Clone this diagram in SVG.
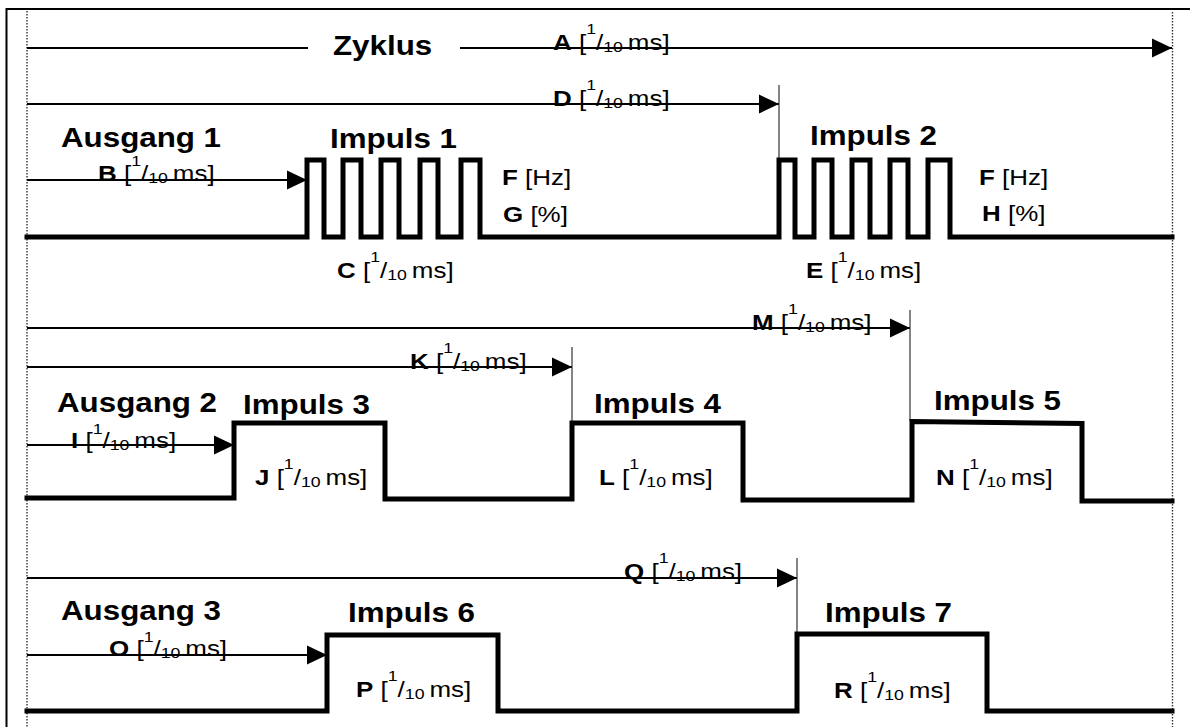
<svg xmlns="http://www.w3.org/2000/svg" width="1190" height="727" viewBox="0 0 1190 727">
<style>
.h{font-family:"Liberation Sans",Arial,sans-serif;font-weight:bold;font-size:27px;fill:#000}
.l{font-family:"Liberation Sans",Arial,sans-serif;font-size:22px;fill:#000}
.b{font-weight:bold}
.s{font-size:15px}
.sig{fill:none;stroke:#000;stroke-width:5;stroke-linejoin:miter;stroke-linecap:square}
.con{fill:none;stroke:#000;stroke-width:1.8}
.tick{fill:none;stroke:#333;stroke-width:1.2}
.dot{fill:none;stroke:#333;stroke-width:1.4;stroke-dasharray:1.5 1.5}
.frame{fill:none;stroke:#000;stroke-width:2}
</style>
<defs>
<marker id="ah" markerUnits="userSpaceOnUse" markerWidth="20" markerHeight="20" refX="20" refY="9.5" orient="auto" viewBox="0 0 20 19">
<path d="M0,0 L20,9.5 L0,19 z" fill="#000"/>
</marker>
</defs>
<rect width="1190" height="727" fill="#fff"/>
<g id="frame">
<path class="frame" d="M6.5,727 V9 H1190"/>
<path class="dot" d="M27,11 V727"/>
<path class="dot" d="M1172.5,12 V727"/>
</g>
<g id="connectors">
<path class="con" d="M27,48 H308"/>
<path class="con" d="M460,48 H1172" marker-end="url(#ah)"/>
<path class="con" d="M27,104 H779" marker-end="url(#ah)"/>
<path class="tick" d="M779,85 V160"/>
<path class="con" d="M27,180 H307" marker-end="url(#ah)"/>
<path class="con" d="M27,328 H910" marker-end="url(#ah)"/>
<path class="tick" d="M910,310 V421"/>
<path class="con" d="M27,367 H572" marker-end="url(#ah)"/>
<path class="tick" d="M572,347 V423"/>
<path class="con" d="M27,445 H234" marker-end="url(#ah)"/>
<path class="con" d="M27,578 H797" marker-end="url(#ah)"/>
<path class="tick" d="M797,558 V634"/>
<path class="con" d="M27,655 H327" marker-end="url(#ah)"/>
</g>
<g id="zyklus">
<text class="h" transform="translate(333,55) scale(1.16,1)">Zyklus</text>
<text class="l" transform="translate(553,50) scale(1.18,1)"><tspan class="b">A</tspan> [<tspan class="s" dy="-16">1</tspan><tspan dy="16">/</tspan><tspan class="s" dy="2">10 </tspan><tspan dy="-2">ms]</tspan></text>
<text class="l" transform="translate(553,106) scale(1.18,1)"><tspan class="b">D</tspan> [<tspan class="s" dy="-16">1</tspan><tspan dy="16">/</tspan><tspan class="s" dy="2">10 </tspan><tspan dy="-2">ms]</tspan></text>
</g>
<g id="ausgang-1">
<path class="sig" d="M27,237 H307 V160 H324 V237 H343 V160 H361 V237 H381 V160 H399 V237 H420 V160 H438 V237 H461 V160 H480 V237 H779 V160 H795 V237 H814 V160 H832 V237 H852 V160 H870 V237 H890 V160 H908 V237 H928 V160 H950 V237 H1172"/>
<text class="h" transform="translate(61,147) scale(1.16,1)">Ausgang 1</text>
<text class="h" transform="translate(330,148) scale(1.16,1)">Impuls 1</text>
<text class="h" transform="translate(810,145) scale(1.16,1)">Impuls 2</text>
<text class="l" transform="translate(98,181) scale(1.18,1)"><tspan class="b">B</tspan> [<tspan class="s" dy="-15">1</tspan><tspan dy="15">/</tspan><tspan class="s" dy="2">10 </tspan><tspan dy="-2">ms]</tspan></text>
<text class="l" transform="translate(502,185) scale(1.18,1)"><tspan class="b">F</tspan> [Hz]</text>
<text class="l" transform="translate(503,222) scale(1.18,1)"><tspan class="b">G</tspan> [%]</text>
<text class="l" transform="translate(337,278) scale(1.18,1)"><tspan class="b">C</tspan> [<tspan class="s" dy="-16">1</tspan><tspan dy="16">/</tspan><tspan class="s" dy="2">10 </tspan><tspan dy="-2">ms]</tspan></text>
<text class="l" transform="translate(979,185) scale(1.18,1)"><tspan class="b">F</tspan> [Hz]</text>
<text class="l" transform="translate(982,221) scale(1.18,1)"><tspan class="b">H</tspan> [%]</text>
<text class="l" transform="translate(806,278) scale(1.18,1)"><tspan class="b">E</tspan> [<tspan class="s" dy="-16">1</tspan><tspan dy="16">/</tspan><tspan class="s" dy="2">10 </tspan><tspan dy="-2">ms]</tspan></text>
</g>
<g id="ausgang-2">
<path class="sig" d="M27,498 H234 V423 H385 V499 H572 V423 H743 V500 H912 V421.5 L1082,423.5 V501 H1172"/>
<text class="h" transform="translate(57,412) scale(1.16,1)">Ausgang 2</text>
<text class="h" transform="translate(243,414) scale(1.16,1)">Impuls 3</text>
<text class="h" transform="translate(594,413) scale(1.16,1)">Impuls 4</text>
<text class="h" transform="translate(934,410) scale(1.16,1)">Impuls 5</text>
<text class="l" transform="translate(752,330) scale(1.18,1)"><tspan class="b">M</tspan> [<tspan class="s" dy="-16">1</tspan><tspan dy="16">/</tspan><tspan class="s" dy="2">10 </tspan><tspan dy="-2">ms]</tspan></text>
<text class="l" transform="translate(410,369) scale(1.18,1)"><tspan class="b">K</tspan> [<tspan class="s" dy="-16">1</tspan><tspan dy="16">/</tspan><tspan class="s" dy="2">10 </tspan><tspan dy="-2">ms]</tspan></text>
<text class="l" transform="translate(71,448) scale(1.18,1)"><tspan class="b">I</tspan> [<tspan class="s" dy="-14">1</tspan><tspan dy="14">/</tspan><tspan class="s" dy="2">10 </tspan><tspan dy="-2">ms]</tspan></text>
<text class="l" transform="translate(255,485) scale(1.18,1)"><tspan class="b">J</tspan> [<tspan class="s" dy="-16">1</tspan><tspan dy="16">/</tspan><tspan class="s" dy="2">10 </tspan><tspan dy="-2">ms]</tspan></text>
<text class="l" transform="translate(599,485) scale(1.18,1)"><tspan class="b">L</tspan> [<tspan class="s" dy="-16">1</tspan><tspan dy="16">/</tspan><tspan class="s" dy="2">10 </tspan><tspan dy="-2">ms]</tspan></text>
<text class="l" transform="translate(936,485) scale(1.18,1)"><tspan class="b">N</tspan> [<tspan class="s" dy="-16">1</tspan><tspan dy="16">/</tspan><tspan class="s" dy="2">10 </tspan><tspan dy="-2">ms]</tspan></text>
</g>
<g id="ausgang-3">
<path class="sig" d="M27,711 H327 V635 H498 V711 H797 V634 H987 V711 H1172"/>
<text class="h" transform="translate(61,620) scale(1.16,1)">Ausgang 3</text>
<text class="h" transform="translate(348,622) scale(1.16,1)">Impuls 6</text>
<text class="h" transform="translate(825,622) scale(1.16,1)">Impuls 7</text>
<text class="l" transform="translate(624,579) scale(1.18,1)"><tspan class="b">Q</tspan> [<tspan class="s" dy="-16">1</tspan><tspan dy="16">/</tspan><tspan class="s" dy="2">10 </tspan><tspan dy="-2">ms]</tspan></text>
<text class="l" transform="translate(109,656) scale(1.18,1)"><tspan class="b">O</tspan> [<tspan class="s" dy="-14">1</tspan><tspan dy="14">/</tspan><tspan class="s" dy="2">10 </tspan><tspan dy="-2">ms]</tspan></text>
<text class="l" transform="translate(356,697) scale(1.18,1)"><tspan class="b">P</tspan> [<tspan class="s" dy="-16">1</tspan><tspan dy="16">/</tspan><tspan class="s" dy="2">10 </tspan><tspan dy="-2">ms]</tspan></text>
<text class="l" transform="translate(834,698) scale(1.18,1)"><tspan class="b">R</tspan> [<tspan class="s" dy="-16">1</tspan><tspan dy="16">/</tspan><tspan class="s" dy="2">10 </tspan><tspan dy="-2">ms]</tspan></text>
</g>
</svg>
